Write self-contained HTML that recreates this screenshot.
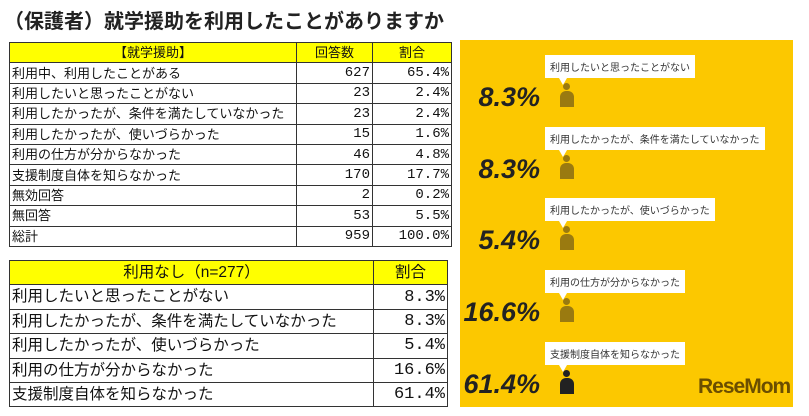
<!DOCTYPE html>
<html><head><meta charset="utf-8">
<style>
body{margin:0;width:809px;height:416px;background:#fff;position:relative;overflow:hidden;font-family:"Liberation Sans","Noto Sans CJK JP",sans-serif;}
.title{position:absolute;left:4px;top:5px;font-size:20px;font-weight:bold;color:#222;white-space:nowrap;}
table{position:absolute;border-collapse:collapse;color:#111;}
td{border:1px solid #333;padding:0 2px;white-space:nowrap;line-height:1;}
.h td{background:#ffff00;text-align:center;}
.r{text-align:right;font-family:"Liberation Mono",monospace;}
#t1{left:9px;top:42px;font-size:13px;}
#t1 .r{font-size:14px;}
#t1 td{height:19.4px;}
#t2{left:9px;top:260px;font-size:15.5px;}
#t2 .r{font-size:17px;}
#t2 td{height:23.4px;}
.panel{position:absolute;left:460px;top:40px;width:333px;height:367px;background:#fcc800;}
.pct{position:absolute;font-size:27px;font-weight:bold;font-style:italic;color:#222;text-align:right;width:78px;}
.bub{position:absolute;background:#fff;font-size:10px;color:#333;padding:4px 5px;white-space:nowrap;}
.bub:after{content:"";position:absolute;left:14px;bottom:-7px;border-left:4px solid transparent;border-right:4px solid transparent;border-top:7px solid #fff;}
.logo{position:absolute;left:698px;top:375px;font-size:21px;font-weight:bold;color:#6b4e00;letter-spacing:-1px;}
</style></head><body>
<div class="title">（保護者）就学援助を利用したことがありますか</div>
<table id="t1">
<tr class="h"><td style="width:282px">【就学援助】</td><td style="width:71px">回答数</td><td style="width:74px">割合</td></tr>
<tr><td>利用中、利用したことがある</td><td class="r">627</td><td class="r">65.4%</td></tr>
<tr><td>利用したいと思ったことがない</td><td class="r">23</td><td class="r">2.4%</td></tr>
<tr><td>利用したかったが、条件を満たしていなかった</td><td class="r">23</td><td class="r">2.4%</td></tr>
<tr><td>利用したかったが、使いづらかった</td><td class="r">15</td><td class="r">1.6%</td></tr>
<tr><td>利用の仕方が分からなかった</td><td class="r">46</td><td class="r">4.8%</td></tr>
<tr><td>支援制度自体を知らなかった</td><td class="r">170</td><td class="r">17.7%</td></tr>
<tr><td>無効回答</td><td class="r">2</td><td class="r">0.2%</td></tr>
<tr><td>無回答</td><td class="r">53</td><td class="r">5.5%</td></tr>
<tr><td>総計</td><td class="r">959</td><td class="r">100.0%</td></tr>
</table>
<table id="t2">
<tr class="h"><td style="width:359px">利用なし（n=277）</td><td style="width:69px">割合</td></tr>
<tr><td>利用したいと思ったことがない</td><td class="r">8.3%</td></tr>
<tr><td>利用したかったが、条件を満たしていなかった</td><td class="r">8.3%</td></tr>
<tr><td>利用したかったが、使いづらかった</td><td class="r">5.4%</td></tr>
<tr><td>利用の仕方が分からなかった</td><td class="r">16.6%</td></tr>
<tr><td>支援制度自体を知らなかった</td><td class="r">61.4%</td></tr>
</table>
<div class="panel"></div>
<div id="rows"></div>
<div class="logo">ReseMom</div>
<script>
const labels=["利用したいと思ったことがない","利用したかったが、条件を満たしていなかった","利用したかったが、使いづらかった","利用の仕方が分からなかった","支援制度自体を知らなかった"];
const values=[8.3,8.3,5.4,16.6,61.4];
const root=document.getElementById('rows');
labels.forEach((l,i)=>{
  const y=55+i*71.7;
  const b=document.createElement('div');b.className='bub';b.style.left='545px';b.style.top=y+'px';b.textContent=l;
  
  
  root.appendChild(b);
  const p=document.createElement('div');p.className='pct';p.style.left='462px';p.style.top=(y+27)+'px';p.textContent=values[i].toFixed(1)+'%';
  
  
  root.appendChild(p);
  const c=i===4?'#222':'#9a7a10';
  const ic=document.createElement('div');
  
  
  ic.style.cssText='position:absolute;left:559px;top:'+(y+28)+'px;width:16px;height:24px;';
  ic.innerHTML='<div style="position:absolute;left:4px;top:0;width:7px;height:7px;border-radius:50%;background:'+c+'"></div><div style="position:absolute;left:1px;top:8px;width:14px;height:16px;border-radius:6px 6px 0 0;background:'+c+'"></div>';
  root.appendChild(ic);
});
</script>
</body></html>
